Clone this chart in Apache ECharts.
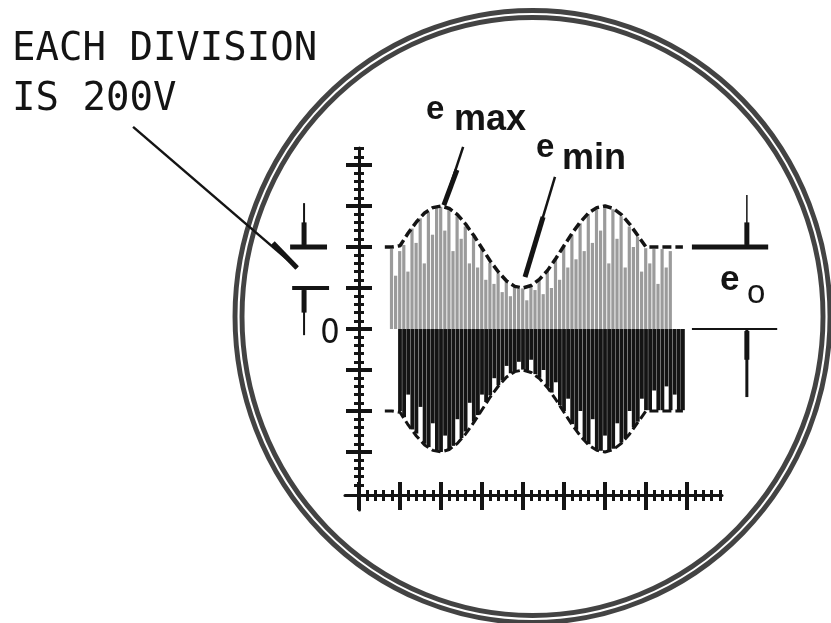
<!DOCTYPE html>
<html><head><meta charset="utf-8">
<script src="https://cdn.jsdelivr.net/npm/echarts@6/dist/echarts.min.js"></script>
<style>html,body{margin:0;padding:0;background:#fff}#c{width:831px;height:623px}</style>
</head><body><div id="c"></div>
<script>
// ---- data (units: screen divisions; 1 division = 200 V) ----
const stripX = [0.8,0.9,1.0,1.1,1.2,1.3,1.4,1.5,1.6,1.7,1.8,1.9,2.0,2.1,2.2,2.3,2.4,2.5,2.6,2.7,2.8,2.9,3.0,3.1,3.2,3.3,3.4,3.5,3.6,3.7,3.8,3.9,4.0,4.1,4.2,4.3,4.4,4.5,4.6,4.7,4.8,4.9,5.0,5.1,5.2,5.3,5.4,5.5,5.6,5.7,5.8,5.9,6.0,6.1,6.2,6.3,6.4,6.5,6.6,6.7,6.8,6.9,7.0,7.1,7.2,7.3,7.4,7.5,7.6,7.7,7.8,7.9];
const positiveHalf = [1.95,1.30,1.90,2.05,1.40,2.45,2.10,2.70,1.60,2.85,2.30,2.95,2.98,2.40,2.90,1.90,2.75,2.20,2.50,1.60,2.25,1.50,1.95,1.20,1.62,1.10,1.36,0.90,1.15,0.80,1.03,0.98,0.99,0.70,1.04,0.95,1.18,0.85,1.40,1.00,1.70,1.20,2.00,1.50,2.30,1.70,2.58,1.90,2.80,2.10,2.92,2.40,2.97,1.60,2.92,2.20,2.75,1.50,2.50,2.00,2.25,1.40,1.97,1.60,1.95,1.10,1.95,1.50,1.90,0,0,0];
const negativeHalf = [0,0,-2.00,-2.15,-1.60,-2.45,-2.55,-1.90,-2.80,-2.88,-2.30,-2.98,-3.00,-2.60,-2.93,-2.85,-2.20,-2.66,-2.50,-1.80,-2.26,-2.10,-1.60,-1.78,-1.62,-1.20,-1.37,-1.25,-0.90,-1.08,-1.03,-0.80,-0.99,-1.00,-0.75,-1.10,-1.19,-1.00,-1.41,-1.55,-1.30,-1.86,-2.00,-1.70,-2.32,-2.46,-2.00,-2.71,-2.81,-2.20,-2.94,-2.97,-2.60,-2.96,-2.92,-2.30,-2.77,-2.66,-2.00,-2.40,-2.26,-1.70,-1.98,-1.98,-1.50,-1.98,-1.98,-1.40,-1.98,-1.60,-1.98,-1.98];
const envelopeX = [0.63,0.8,1.0,1.2,1.4,1.6,1.8,2.0,2.2,2.4,2.6,2.8,3.0,3.2,3.4,3.6,3.8,4.0,4.2,4.4,4.6,4.8,5.0,5.2,5.4,5.6,5.8,6.0,6.2,6.4,6.6,6.8,7.0,7.2,7.4,7.6,7.9];
const envelopeUpper = [2.0,2.0,2.03,2.34,2.61,2.83,2.96,3.0,2.94,2.79,2.56,2.28,1.97,1.66,1.39,1.17,1.04,1.0,1.06,1.21,1.43,1.72,2.03,2.34,2.61,2.83,2.96,3.0,2.94,2.79,2.56,2.28,2.0,2.0,2.0,2.0,2.0];
const envelopeLower = [-2.0,-2.0,-2.03,-2.34,-2.61,-2.83,-2.96,-3.0,-2.94,-2.79,-2.56,-2.28,-1.97,-1.66,-1.39,-1.17,-1.04,-1.0,-1.06,-1.21,-1.43,-1.72,-2.03,-2.34,-2.61,-2.83,-2.96,-3.0,-2.94,-2.79,-2.56,-2.28,-2.0,-2.0,-2.0,-2.0,-2.0];
const xMajorTicks = [0,1,2,3,4,5,6,7,8];
const yMajorTicks = [-3,-2,-1,0,1,2,3,4];
const screenCenter = [4.232, 0.305];
// annotation strokes
const divisionLeader = [[-5.51,4.93],[-1.51,1.49]];
const divisionLeaderHead = [[-2.10,2.10],[-1.51,1.49]];
const emaxLeader = [[2.54,4.44],[2.07,3.02]];
const emaxLeaderHead = [[2.39,3.88],[2.07,3.02]];
const eminLeader = [[4.78,3.71],[4.05,1.27]];
const eminLeaderHead = [[4.49,2.73],[4.05,1.27]];
const divTopStem = [[-1.34,3.07],[-1.34,2.0]];
const divTopHead = [[-1.34,2.6],[-1.34,2.05]];
const divTopBar = [[-1.68,2.0],[-0.78,2.0]];
const divBottomBar = [[-1.63,1.0],[-0.73,1.0]];
const divBottomStem = [[-1.34,1.0],[-1.34,-0.15]];
const divBottomHead = [[-1.34,0.95],[-1.34,0.4]];
const e0TopBar = [[8.12,2.0],[9.98,2.0]];
const e0TopStem = [[9.46,3.27],[9.46,2.0]];
const e0TopHead = [[9.46,2.6],[9.46,2.05]];
const e0BottomBar = [[8.12,0],[10.2,0]];
const e0BottomStem = [[9.46,0],[9.46,-1.66]];
const e0BottomHead = [[9.46,-0.05],[9.46,-0.75]];

// ---- layout ----
const INK = '#141414', GRAY = '#9b9b9b';
const PX = 41, X0 = 359, Y0 = 329, W = 831, H = 623;
// full-canvas grid (series)
const FX_MIN = -X0/PX, FX_MAX = (W-X0)/PX, FY_MIN = -(H-Y0)/PX, FY_MAX = Y0/PX;
// scope grid (axes)
const X_MIN = -14/PX, X_MAX = 363/PX, Y_MIN = -181/PX, Y_MAX = 181/PX;
const X_AXIS_LEVEL = -166/PX;
function minorOf(lo, hi) {
  const out = [];
  for (let v = lo; v <= hi + 1e-9; v += 0.2) {
    const r = Math.round(v * 10) / 10;
    if (Math.abs(r - Math.round(r)) > 1e-6) out.push(r);
  }
  return out;
}
const xMinorTicks = minorOf(0, 8.8);
const yMinorTicks = minorOf(-3.8, 4.4);

function xAx(ticks, inside, len, w, showLine) {
  return { type:'value', gridIndex:1, position:'bottom', min:X_MIN, max:X_MAX,
    axisLine:{show:showLine, onZero:true, onZeroAxisIndex:5, lineStyle:{color:INK, width:3}},
    axisTick:{show:true, inside:inside, length:len, customValues:ticks, lineStyle:{color:INK, width:w}},
    axisLabel:{show:false}, splitLine:{show:false}, minorTick:{show:false} };
}
function yAx(ticks, inside, len, w, showLine) {
  return { type:'value', gridIndex:1, position:'left', min:Y_MIN, max:Y_MAX,
    axisLine:{show:showLine, onZero:true, onZeroAxisIndex:1, lineStyle:{color:INK, width:3}},
    axisTick:{show:true, inside:inside, length:len, customValues:ticks, lineStyle:{color:INK, width:w}},
    axisLabel:{show:false}, splitLine:{show:false}, minorTick:{show:false} };
}
function seg(pts, width, type) {
  return { type:'line', data:pts, xAxisIndex:0, yAxisIndex:0, clip:false, silent:true,
    symbol:'none', showSymbol:false, z:5,
    lineStyle:{color:INK, width:width, type:type || 'solid', cap:'butt'} };
}
const TXT = (x, y, text, font, align) => ({type:'text', x:x, y:y,
  style:{text:text, font:font, fill:INK, align:align || 'left', verticalAlign:'middle'}});

const chart = echarts.init(document.getElementById('c'), null, {renderer:'canvas'});
chart.setOption({
  animation:false,
  backgroundColor:'#ffffff',
  grid:[ {left:0, right:0, top:0, bottom:0},
         {left:345, right:109, top:148, bottom:113} ],
  xAxis:[ {type:'value', gridIndex:0, min:FX_MIN, max:FX_MAX, show:false},
          xAx(xMajorTicks,false,15,4,true), xAx(xMajorTicks,true,13,4,false),
          xAx(xMinorTicks,false,6,3,false), xAx(xMinorTicks,true,5,3,false) ],
  yAxis:[ {type:'value', gridIndex:0, min:FY_MIN, max:FY_MAX, show:false},
          yAx(yMajorTicks,false,13,4,true), yAx(yMajorTicks,true,13,4,false),
          yAx(yMinorTicks,false,5,3,false), yAx(yMinorTicks,true,5,3,false),
          { type:'value', gridIndex:1, position:'left', show:false,
            min:Y_MIN - X_AXIS_LEVEL, max:Y_MAX - X_AXIS_LEVEL } ],
  graphic:[
    TXT(12, 50, 'EACH DIVISION', '39px "DejaVu Sans Mono"'),
    TXT(12, 100, 'IS 200V', '39px "DejaVu Sans Mono"'),
    TXT(426, 110, 'e', 'bold 33px "Liberation Sans"'),
    TXT(454, 120, 'max', 'bold 36px "Liberation Sans"'),
    TXT(536, 148, 'e', 'bold 33px "Liberation Sans"'),
    TXT(562, 159, 'min', 'bold 36px "Liberation Sans"'),
    TXT(720, 280, 'e', 'bold 35px "Liberation Sans"'),
    TXT(747, 294, 'o', '33px "Liberation Sans"'),
    TXT(330, 334, '0', '34px "Liberation Sans Narrow","DejaVu Sans Condensed","Liberation Sans"', 'center')
  ],
  series:[
    { type:'scatter', silent:true, xAxisIndex:0, yAxisIndex:0, z:1, symbol:'circle',
      itemStyle:{color:'rgba(0,0,0,0)', borderColor:INK, borderWidth:5},
      data:[ {value:screenCenter, symbolSize:[595,612]}, {value:screenCenter, symbolSize:[581,598]} ] },
    { type:'bar', name:'positive half', xAxisIndex:0, yAxisIndex:0, barWidth:3.2, barGap:'-100%', silent:true,
      itemStyle:{color:GRAY}, data: stripX.map((x,i)=>[x, positiveHalf[i]]) },
    { type:'bar', name:'negative half', xAxisIndex:0, yAxisIndex:0, barWidth:3.8, barGap:'-100%', silent:true,
      itemStyle:{color:INK}, data: stripX.map((x,i)=>[x, negativeHalf[i]]) },
    seg(envelopeX.map((x,i)=>[x, envelopeUpper[i]]), 3.5, [9,4]),
    seg(envelopeX.map((x,i)=>[x, envelopeLower[i]]), 3, [9,4]),
    seg(divisionLeader, 2.5), seg(divisionLeaderHead, 5),
    seg(emaxLeader, 2.5), seg(emaxLeaderHead, 5),
    seg(eminLeader, 2.5), seg(eminLeaderHead, 5),
    seg(divTopStem, 2), seg(divTopHead, 5), seg(divTopBar, 5),
    seg(divBottomBar, 4), seg(divBottomStem, 2), seg(divBottomHead, 5),
    seg(e0TopBar, 5), seg(e0TopStem, 1.5), seg(e0TopHead, 5),
    seg(e0BottomBar, 2), seg(e0BottomStem, 3), seg(e0BottomHead, 5)
  ]
});
</script></body></html>
